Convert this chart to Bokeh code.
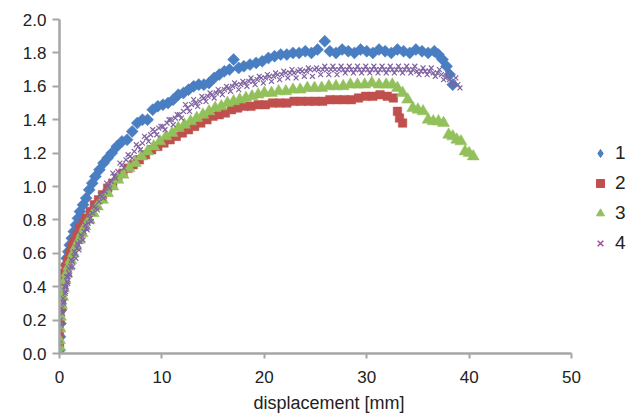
import math
from bokeh.plotting import figure
from bokeh.models import Range1d, FixedTicker, Legend, LegendItem, Title
from bokeh.embed import file_html
from bokeh.resources import INLINE

# ---------------- data ----------------
series_names = ["1", "2", "3", "4"]

s1_x = [0.0, 0.05, 0.1, 0.15, 0.2, 0.3, 0.4, 0.5, 0.6, 0.7, 0.85, 1.0, 1.2, 1.4, 1.6, 1.8, 2.0, 2.3, 2.6, 2.9,
        3.2, 3.5, 3.9, 4.3, 4.7, 5.1, 5.6, 6.1, 6.6, 7.1, 7.6, 8.1, 8.6, 9.1, 9.6, 10.1, 10.6, 11.1, 11.6, 12.1,
        12.6, 13.1, 13.6, 14.1, 14.6, 15.1, 15.6, 16.1, 16.6, 17.0, 17.5, 18.0, 18.6, 19.2, 19.8, 20.4, 21.0, 21.6,
        22.2, 22.8, 23.4, 24.0, 24.6, 25.2, 25.9, 26.4, 27.0, 27.6, 28.2, 28.8, 29.4, 30.0, 30.6, 31.2, 31.8, 32.4,
        33.0, 33.6, 34.2, 34.8, 35.4, 36.0, 36.6, 37.0, 37.4, 37.8, 38.1, 38.4]
s1_y = [0.02, 0.10, 0.18, 0.26, 0.33, 0.40, 0.45, 0.49, 0.53, 0.57, 0.61, 0.65, 0.69, 0.73, 0.77, 0.81, 0.85, 0.89, 0.93, 0.98,
        1.02, 1.06, 1.10, 1.14, 1.17, 1.20, 1.24, 1.27, 1.28, 1.33, 1.38, 1.40, 1.40, 1.46, 1.48, 1.49, 1.50, 1.52, 1.55, 1.56,
        1.58, 1.60, 1.61, 1.61, 1.62, 1.65, 1.67, 1.69, 1.70, 1.76, 1.71, 1.72, 1.73, 1.74, 1.75, 1.77, 1.78, 1.79,
        1.79, 1.80, 1.80, 1.81, 1.80, 1.82, 1.87, 1.81, 1.80, 1.82, 1.81, 1.80, 1.82, 1.81, 1.80, 1.82, 1.81, 1.80,
        1.82, 1.81, 1.80, 1.82, 1.81, 1.80, 1.81, 1.79, 1.76, 1.72, 1.67, 1.61]

s2_x = [0.0, 0.0, 0.05, 0.1, 0.15, 0.2, 0.3, 0.4, 0.5, 0.65, 0.8, 1.0, 1.2, 1.4, 1.7, 2.0, 2.3, 2.6, 3.0, 3.4,
        3.8, 4.2, 4.7, 5.2, 5.7, 6.2, 6.7, 7.2, 7.8, 8.4, 9.0, 9.6, 10.2, 10.8, 11.4, 12.0, 12.6, 13.2, 13.8, 14.4,
        15.0, 15.6, 16.2, 16.8, 17.4, 18.0, 18.7, 19.4, 20.1, 20.8, 21.5, 22.2, 22.9, 23.6, 24.3, 25.0, 25.7, 26.4,
        27.1, 27.8, 28.5, 29.2, 29.9, 30.6, 31.3, 32.0, 32.6, 33.0, 33.2, 33.5]
s2_y = [0.05, 0.12, 0.20, 0.27, 0.32, 0.36, 0.41, 0.45, 0.48, 0.52, 0.56, 0.60, 0.64, 0.67, 0.71, 0.75, 0.78, 0.81, 0.85, 0.89,
        0.92, 0.95, 0.99, 1.02, 1.05, 1.08, 1.11, 1.13, 1.16, 1.19, 1.22, 1.24, 1.26, 1.28, 1.30, 1.32, 1.34, 1.36, 1.38, 1.40,
        1.42, 1.43, 1.44, 1.46, 1.47, 1.48, 1.48, 1.49, 1.49, 1.50, 1.50, 1.50, 1.51, 1.51, 1.51, 1.51, 1.51, 1.52,
        1.52, 1.52, 1.52, 1.53, 1.54, 1.54, 1.55, 1.54, 1.53, 1.45, 1.41, 1.38]

s3_x = [0.0, 0.0, 0.0, 0.05, 0.1, 0.2, 0.3, 0.4, 0.55, 0.7, 0.9, 1.1, 1.35, 1.6, 1.9, 2.2, 2.5, 2.9, 3.3, 3.7,
        4.2, 4.7, 5.2, 5.7, 6.2, 6.8, 7.4, 8.0, 8.6, 9.2, 9.8, 10.4, 11.0, 11.6, 12.2, 12.8, 13.4, 14.0, 14.6, 15.2,
        15.8, 16.4, 17.0, 17.6, 18.2, 18.8, 19.4, 20.0, 20.7, 21.4, 22.1, 22.8, 23.5, 24.2, 24.9, 25.6, 26.3, 27.0,
        27.7, 28.4, 29.1, 29.8, 30.5, 31.2, 31.9, 32.5, 33.0, 33.5, 34.0, 34.5, 35.0, 35.5, 36.0, 36.5, 37.0, 37.5,
        38.0, 38.4, 38.8, 39.2, 39.6, 40.0, 40.4]
s3_y = [0.00, 0.04, 0.08, 0.15, 0.22, 0.29, 0.34, 0.39, 0.44, 0.48, 0.52, 0.56, 0.60, 0.64, 0.68, 0.72, 0.76, 0.80, 0.84, 0.88,
        0.92, 0.96, 1.00, 1.04, 1.07, 1.11, 1.14, 1.18, 1.21, 1.24, 1.27, 1.30, 1.32, 1.35, 1.37, 1.39, 1.41, 1.43, 1.45, 1.47,
        1.48, 1.50, 1.51, 1.52, 1.53, 1.54, 1.55, 1.56, 1.56, 1.57, 1.57, 1.58, 1.58, 1.59, 1.59, 1.59, 1.60, 1.60,
        1.60, 1.61, 1.61, 1.61, 1.62, 1.61, 1.61, 1.61, 1.59, 1.56, 1.52, 1.47, 1.46, 1.45, 1.40, 1.39, 1.39, 1.38,
        1.31, 1.30, 1.28, 1.27, 1.21, 1.20, 1.18]

# series 4: outer edges of the point cloud
s4_x = [0.0, 0.05, 0.1, 0.15, 0.2, 0.3, 0.35, 0.45, 0.5, 0.6, 0.7, 0.8, 0.9, 1.0, 1.15, 1.3, 1.45, 1.6, 1.75, 1.9,
        2.1, 2.3, 2.5, 2.7, 2.9, 3.1, 3.4, 3.7, 4.0, 4.3, 4.6, 4.9, 5.2, 5.5, 5.9, 6.3, 6.7, 7.1, 7.5, 7.9,
        8.3, 8.7, 9.1, 9.5, 9.9, 10.3, 10.7, 11.1, 11.5, 11.9, 12.3, 12.7, 13.1, 13.5, 13.9, 14.3, 14.7, 15.1, 15.5, 15.9,
        16.3, 16.7, 17.1, 17.5, 17.9, 18.3, 18.7, 19.1, 19.5, 19.9, 20.3, 20.7, 21.1, 21.5, 21.9, 22.3, 22.7, 23.1, 23.5, 23.9,
        24.3, 24.7, 25.1, 25.5, 25.9, 26.3, 26.7, 27.1, 27.5, 27.9, 28.3, 28.7, 29.1, 29.5, 29.9, 30.3, 30.7, 31.1, 31.5, 31.9,
        32.3, 32.7, 33.1, 33.5, 33.9, 34.3, 34.7, 35.1, 35.5, 35.9, 36.3, 36.7, 37.1, 37.5, 37.9, 38.3, 38.7, 39.1]
s4_y = [0.06, 0.13, 0.20, 0.17, 0.27, 0.24, 0.33, 0.31, 0.40, 0.37, 0.46, 0.42, 0.51, 0.47, 0.56, 0.52, 0.61, 0.57, 0.66, 0.62,
        0.71, 0.68, 0.77, 0.74, 0.83, 0.79, 0.88, 0.86, 0.95, 0.93, 1.02, 0.99, 1.08, 1.05, 1.14, 1.11, 1.19, 1.17, 1.25, 1.22,
        1.30, 1.27, 1.34, 1.31, 1.36, 1.34, 1.40, 1.37, 1.43, 1.41, 1.49, 1.45, 1.52, 1.48, 1.54, 1.51, 1.56, 1.53, 1.58, 1.55,
        1.60, 1.57, 1.62, 1.58, 1.63, 1.60, 1.65, 1.61, 1.66, 1.62, 1.67, 1.63, 1.68, 1.64, 1.69, 1.65, 1.70, 1.65, 1.70, 1.66,
        1.71, 1.66, 1.71, 1.67, 1.72, 1.67, 1.72, 1.67, 1.72, 1.68, 1.72, 1.68, 1.72, 1.68, 1.72, 1.68, 1.72, 1.68, 1.72, 1.68,
        1.72, 1.68, 1.72, 1.68, 1.72, 1.68, 1.72, 1.67, 1.71, 1.67, 1.71, 1.66, 1.70, 1.64, 1.68, 1.61, 1.65, 1.59]
# series 4: middle of the point cloud
s4_mid_x = [0.25, 0.4, 0.55, 0.65, 0.75, 0.85, 0.95, 1.1, 1.25, 1.4, 1.55, 1.7, 1.85, 2.0, 2.2, 2.4, 2.6, 2.8,
            3.0, 3.25, 3.55, 3.85, 4.15, 4.45, 4.75, 5.05, 5.35, 5.7, 6.1, 6.5, 6.9, 7.3, 7.7, 8.1, 8.5, 8.9,
            9.3, 9.7, 10.1, 10.5, 10.9, 11.3, 11.7, 12.1, 12.5, 12.9, 13.3, 13.7, 14.1, 14.5, 14.9, 15.3, 15.7,
            16.1, 16.5, 16.9, 17.3, 17.7, 18.1, 18.5, 18.9, 19.3, 19.7, 20.1, 20.5, 20.9, 21.3, 21.7, 22.1, 22.5,
            22.9, 23.3, 23.7, 24.1, 24.5, 24.9, 25.3, 25.7, 26.1, 26.5, 26.9, 27.3, 27.7, 28.1, 28.5, 28.9, 29.3,
            29.7, 30.1, 30.5, 30.9, 31.3, 31.7, 32.1, 32.5, 32.9, 33.3, 33.7, 34.1, 34.5, 34.9, 35.3, 35.7, 36.1,
            36.5, 36.9, 37.3, 37.7, 38.1, 38.5, 38.9]
s4_mid_y = [0.25, 0.30, 0.36, 0.40, 0.43, 0.46, 0.48, 0.52, 0.55, 0.58, 0.60, 0.63, 0.65, 0.67, 0.70, 0.73, 0.75, 0.78,
            0.81, 0.84, 0.87, 0.91, 0.94, 0.97, 1.00, 1.03, 1.06, 1.09, 1.13, 1.16, 1.18, 1.21, 1.24, 1.26, 1.29, 1.31,
            1.33, 1.35, 1.36, 1.38, 1.40, 1.41, 1.43, 1.45, 1.47, 1.49, 1.50, 1.51, 1.53, 1.54, 1.55, 1.56, 1.57,
            1.58, 1.59, 1.60, 1.61, 1.61, 1.62, 1.63, 1.63, 1.64, 1.65, 1.65, 1.66, 1.66, 1.67, 1.67, 1.68, 1.68,
            1.68, 1.69, 1.69, 1.69, 1.70, 1.70, 1.70, 1.70, 1.70, 1.70, 1.70, 1.70, 1.70, 1.70, 1.70, 1.70, 1.70,
            1.70, 1.70, 1.70, 1.70, 1.70, 1.70, 1.70, 1.70, 1.70, 1.70, 1.70, 1.70, 1.70, 1.69, 1.69, 1.69, 1.69,
            1.68, 1.68, 1.67, 1.65, 1.64, 1.62, 1.61]

x_ticks = [0, 10, 20, 30, 40, 50]
x_tick_labels = ["0", "10", "20", "30", "40", "50"]
y_ticks = [0.0, 0.2, 0.4, 0.6, 0.8, 1.0, 1.2, 1.4, 1.6, 1.8, 2.0]
y_tick_labels = ["0.0", "0.2", "0.4", "0.6", "0.8", "1.0", "1.2", "1.4", "1.6", "1.8", "2.0"]
x_title = "displacement [mm]"

# ---------------- styling ----------------
C_BLUE = "#4A7EC2"
C_RED = "#C0504D"
C_GREEN = "#92C05A"
C_PURPLE = "#8064A2"
C_PURPLE_KEY = "#A04C98"
AXIS_GREY = "#A6A6A6"
TEXT = "#222222"
FONT = "Liberation Sans"

# frame runs from x=59px to x=633px; the drawn axis covers 0..50 only
X_AXIS_END = 50
X_VIEW_END = 56.05

p = figure(width=638, height=419, output_backend="svg", toolbar_location=None,
           x_range=Range1d(0, X_VIEW_END), y_range=Range1d(0, 2.0),
           min_border_left=59, min_border_right=5, min_border_top=19, min_border_bottom=66)
p.background_fill_color = "white"
p.border_fill_color = "white"
p.outline_line_color = None
p.xgrid.visible = False
p.ygrid.visible = False

# legend key glyphs: each drawn at its series' first point (hidden under the series markers)
k1 = p.scatter(s1_x[:1], s1_y[:1], marker="diamond", size=14, fill_color=C_BLUE, line_color=C_BLUE)
k2 = p.scatter(s2_x[:1], s2_y[:1], marker="square", size=8, fill_color=C_RED, line_color=C_RED)
k3 = p.scatter(s3_x[:1], s3_y[:1], marker="triangle", size=11, fill_color=C_GREEN, line_color=C_GREEN)
k4 = p.scatter(s4_x[:1], s4_y[:1], marker="x", size=7, line_color=C_PURPLE_KEY, line_width=1.5)

r1 = p.scatter(s1_x, s1_y, marker="square", angle=math.pi / 4, size=8.5,
               fill_color=C_BLUE, line_color=C_BLUE, line_width=0.5)
r2 = p.scatter(s2_x, s2_y, marker="square", size=8.5,
               fill_color=C_RED, line_color=C_RED, line_width=0.5)
r3 = p.scatter(s3_x, s3_y, marker="triangle", size=12,
               fill_color=C_GREEN, line_color=C_GREEN, line_width=0.5)
r4 = p.scatter(s4_x + s4_mid_x, s4_y + s4_mid_y, marker="x", size=7,
               line_color=C_PURPLE, line_width=1.2)

for ax in (p.xaxis[0], p.yaxis[0]):
    ax.axis_line_color = AXIS_GREY
    ax.axis_line_width = 2.5
    ax.major_tick_line_color = AXIS_GREY
    ax.major_tick_line_width = 2
    ax.major_tick_in = 0
    ax.minor_tick_line_color = None
    ax.major_label_text_font = FONT
    ax.major_label_text_font_size = "17px"
    ax.major_label_text_color = TEXT

p.xaxis.bounds = (0, X_AXIS_END)
p.xaxis.ticker = FixedTicker(ticks=x_ticks)
p.xaxis.major_label_overrides = {t: l for t, l in zip(x_ticks, x_tick_labels)}
p.xaxis.major_tick_out = 5
p.xaxis.major_label_standoff = 12

p.yaxis.ticker = FixedTicker(ticks=y_ticks)
p.yaxis.major_label_overrides = {t: l for t, l in zip(y_ticks, y_tick_labels)}
p.yaxis.major_tick_out = 7
p.yaxis.major_label_standoff = 6

# x-axis title, centred under the 0..50 axis rule rather than under the wider frame
x_label = Title(text=x_title, align="left", offset=194, standoff=10,
                text_font=FONT, text_font_size="18px", text_font_style="normal",
                text_color=TEXT)
p.add_layout(x_label, "below")

legend = Legend(items=[LegendItem(label=series_names[0], renderers=[k1]),
                       LegendItem(label=series_names[1], renderers=[k2]),
                       LegendItem(label=series_names[2], renderers=[k3]),
                       LegendItem(label=series_names[3], renderers=[k4])],
                location=(531, 99))
legend.border_line_alpha = 0
legend.background_fill_alpha = 0
legend.padding = 0
legend.margin = 0
legend.spacing = 8
legend.glyph_width = 20
legend.glyph_height = 20
legend.label_height = 20
legend.label_standoff = 5
legend.label_text_font = FONT
legend.label_text_font_size = "19px"
legend.label_text_color = TEXT
p.add_layout(legend)

open("out.html", "w").write(file_html(p, INLINE))
